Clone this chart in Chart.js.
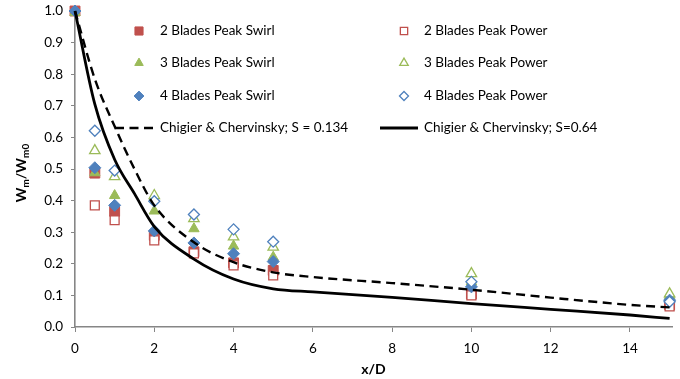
<!DOCTYPE html>
<html>
<head>
<meta charset="utf-8">
<script src="https://cdn.jsdelivr.net/npm/chart.js@4.4.1/dist/chart.umd.min.js"></script>
<style>
  html, body { margin: 0; padding: 0; background: #fff; overflow: hidden; }
  #wrap { position: relative; width: 680px; height: 379px; }
</style>
</head>
<body>
<div id="wrap"><canvas id="chart"></canvas></div>
<script>
// measurement stations (x/D)
const stations = [0, 0.5, 1, 2, 3, 4, 5, 10, 15];

const swirl2 = [1.0, 0.487, 0.366, 0.290, 0.238, 0.203, 0.179, 0.104, 0.070];
const power2 = [null, 0.385, 0.338, 0.274, 0.233, 0.195, 0.163, 0.100, 0.065];
const swirl3 = [0.995, 0.488, 0.416, 0.367, 0.311, 0.256, 0.221, 0.143, 0.100];
const power3 = [null, 0.558, 0.476, 0.416, 0.343, 0.285, 0.253, 0.169, 0.105];
const swirl4 = [1.0, 0.504, 0.385, 0.304, 0.266, 0.232, 0.207, 0.127, 0.085];
const power4 = [null, 0.621, 0.495, 0.398, 0.356, 0.309, 0.270, 0.143, 0.080];

// Chigier & Chervinsky decay curves
const ccX = [0, 0.5, 1, 1.5, 2, 3, 4, 5, 6, 8, 10, 12, 14, 15];
const ccLow = [1.0, 0.785, 0.635, 0.500, 0.385, 0.268, 0.205, 0.173, 0.158, 0.139, 0.118, 0.093, 0.070, 0.062];
const ccHigh = [1.0, 0.705, 0.530, 0.422, 0.318, 0.215, 0.152, 0.121, 0.111, 0.094, 0.074, 0.056, 0.038, 0.027];

const yTicks = [0, 0.1, 0.2, 0.3, 0.4, 0.5, 0.6, 0.7, 0.8, 0.9, 1.0];
const xTicks = [0, 2, 4, 6, 8, 10, 12, 14];

const RED = '#C0504D', GREEN = '#9BBB59', BLUE = '#4F81BD';
const FONT = 'Lato, "Open Sans", sans-serif';

const pts = (xs, ys) => xs.map((x, i) => ({ x, y: ys[i] }));

function markers(label, ys, shape, color, hollow, radius) {
  return {
    label,
    data: pts(stations, ys),
    pointStyle: shape,
    pointRadius: radius,
    backgroundColor: hollow ? '#ffffff' : color,
    borderColor: color,
    borderWidth: hollow ? 1.3 : 1,
    showLine: false,
    clip: false
  };
}

function curve(label, ys, dash) {
  return {
    label,
    data: pts(ccX, ys),
    showLine: true,
    pointRadius: 0,
    borderColor: '#000',
    borderWidth: dash ? 2.4 : 2.8,
    borderDash: dash ? [9, 5.5] : [],
    cubicInterpolationMode: 'monotone',
    fill: false,
    clip: false
  };
}

const datasets = [
  markers('2 Blades Peak Swirl', swirl2, 'rect', RED, false, 7),
  markers('2 Blades Peak Power', power2, 'rect', RED, true, 6.3),
  markers('3 Blades Peak Swirl', swirl3, 'triangle', GREEN, false, 6),
  markers('3 Blades Peak Power', power3, 'triangle', GREEN, true, 6),
  markers('4 Blades Peak Swirl', swirl4, 'rectRot', BLUE, false, 6),
  markers('4 Blades Peak Power', power4, 'rectRot', BLUE, true, 5.5),
  curve('Chigier & Chervinsky; S = 0.134', ccLow, true),
  curve('Chigier & Chervinsky; S=0.64', ccHigh, false)
];
// later series sit on top
datasets.forEach((d, i) => { d.order = datasets.length - i; });

// two-column legend inside the plot
const legendBox = {
  id: 'legendBox',
  afterDraw(chart) {
    const ctx = chart.ctx;
    const cols = [{ mark: 139, text: 160 }, { mark: 404, text: 424 }];
    const rows = [31, 63, 96, 128];
    ctx.save();
    ctx.font = '13.5px ' + FONT;
    ctx.fillStyle = '#000';
    ctx.textBaseline = 'middle';
    chart.data.datasets.forEach((ds, i) => {
      const col = cols[i % 2], y = rows[Math.floor(i / 2)];
      if (ds.showLine) {
        ctx.save();
        ctx.strokeStyle = ds.borderColor;
        ctx.lineWidth = ds.borderWidth;
        ctx.setLineDash(ds.borderDash);
        ctx.beginPath();
        ctx.moveTo(col.mark - 24, y);
        ctx.lineTo(col.mark + 14, y);
        ctx.stroke();
        ctx.restore();
      } else {
        ctx.save();
        ctx.fillStyle = ds.backgroundColor;
        ctx.strokeStyle = ds.borderColor;
        ctx.lineWidth = ds.borderWidth;
        Chart.helpers.drawPoint(ctx, { pointStyle: ds.pointStyle, radius: ds.pointRadius * 0.82, borderWidth: ds.borderWidth }, col.mark, y);
        ctx.restore();
      }
      ctx.fillText(ds.label, col.text, y);
    });
    ctx.restore();
  }
};

// rotated y title with subscripts
const yTitle = {
  id: 'yTitle',
  afterDraw(chart) {
    const ctx = chart.ctx, area = chart.chartArea;
    const parts = [['W', false], ['m', true], ['/W', false], ['m0', true]];
    const big = 'bold 14px ' + FONT, small = 'bold 10px ' + FONT;
    ctx.save();
    let total = 0;
    parts.forEach(p => { ctx.font = p[1] ? small : big; total += ctx.measureText(p[0]).width; });
    ctx.translate(21, (area.top + area.bottom) / 2 + 4);
    ctx.rotate(-Math.PI / 2);
    ctx.fillStyle = '#000';
    ctx.textBaseline = 'alphabetic';
    let x = -total / 2;
    parts.forEach(p => {
      ctx.font = p[1] ? small : big;
      ctx.fillText(p[0], x, p[1] ? 8 : 5);
      x += ctx.measureText(p[0]).width;
    });
    ctx.restore();
  }
};

const AXIS = '#868686';

new Chart(document.getElementById('chart'), {
  type: 'scatter',
  data: { datasets },
  options: {
    responsive: true,
    maintainAspectRatio: false,
    animation: false,
    events: [],
    layout: { padding: { top: 11, right: 0, left: 0, bottom: 0 } },
    plugins: { legend: { display: false }, tooltip: { enabled: false } },
    scales: {
      x: {
        type: 'linear',
        min: 0,
        max: 15.06,
        afterBuildTicks: s => { s.ticks = xTicks.map(v => ({ value: v })); },
        afterFit: s => { s.height = 52; s.paddingLeft = 0; s.paddingRight = 0; },
        grid: { drawOnChartArea: false, tickLength: 5, color: AXIS, tickWidth: 1 },
        border: { color: AXIS, width: 1.6 },
        ticks: { color: '#000', font: { family: FONT, size: 13.5 }, padding: 9, maxRotation: 0 },
        title: { display: true, text: 'x/D', color: '#000', font: { family: FONT, size: 14, weight: 'bold' }, padding: { top: 0, bottom: 1 } }
      },
      y: {
        min: 0,
        max: 1,
        afterBuildTicks: s => { s.ticks = yTicks.map(v => ({ value: v })); },
        afterFit: s => { s.width = 75; s.paddingTop = 0; s.paddingBottom = 0; },
        grid: { drawOnChartArea: false, tickLength: 4, color: AXIS, tickWidth: 1 },
        border: { color: AXIS, width: 1.6 },
        ticks: { color: '#000', font: { family: FONT, size: 13.5 }, padding: 8, callback: v => v.toFixed(1) }
      }
    }
  },
  plugins: [legendBox, yTitle]
});
</script>
</body>
</html>
